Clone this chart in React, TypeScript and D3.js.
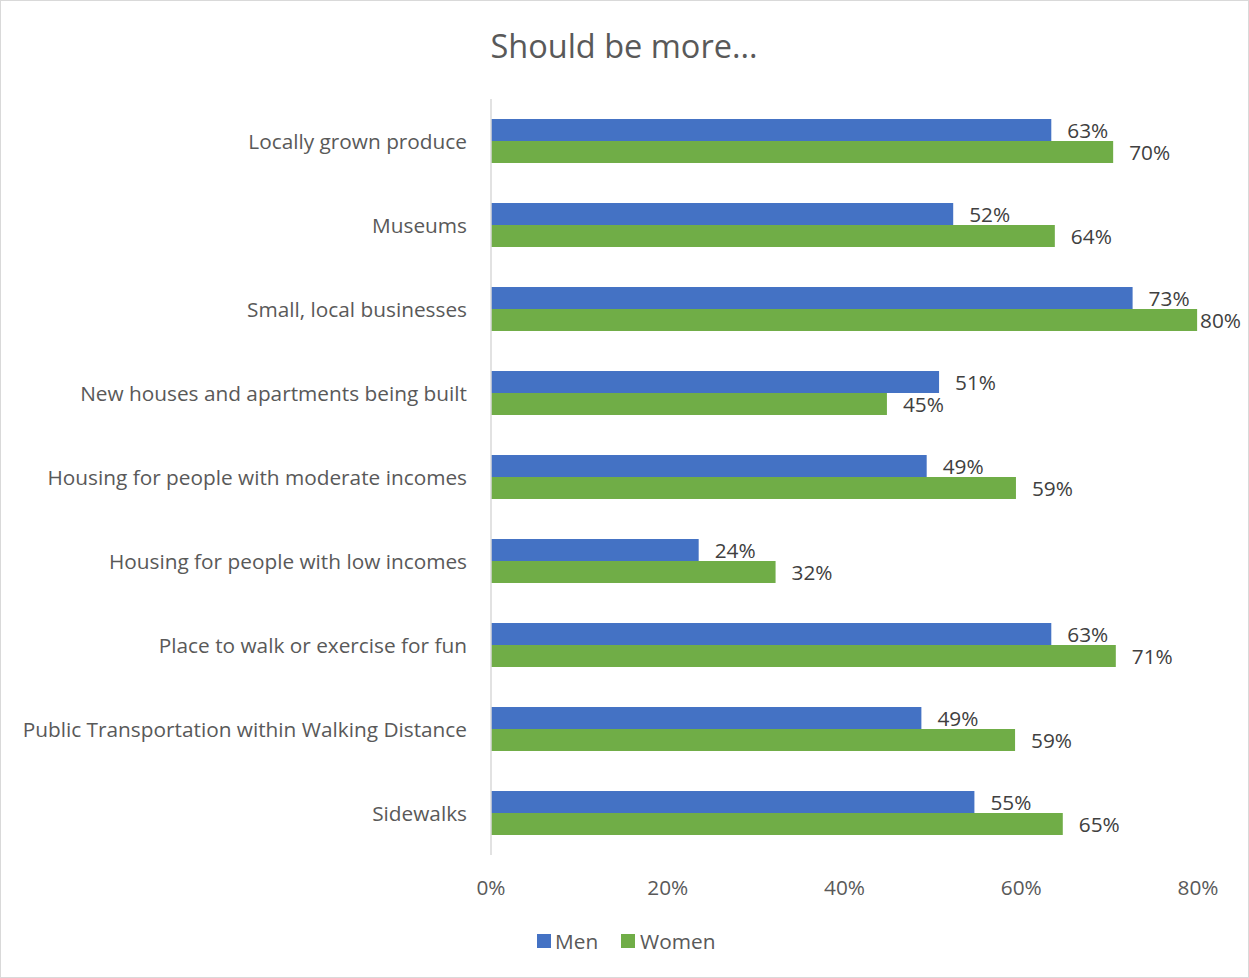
import React from "react";
import * as d3 from "d3";

const categories = [
  "Locally grown produce",
  "Museums",
  "Small, local businesses",
  "New houses and apartments being built",
  "Housing for people with moderate incomes",
  "Housing for people with low incomes",
  "Place to walk or exercise for fun",
  "Public Transportation within Walking Distance",
  "Sidewalks",
];
const men = [63.4, 52.3, 72.6, 50.7, 49.3, 23.5, 63.4, 48.7, 54.7];
const women = [70.4, 63.8, 79.9, 44.8, 59.4, 32.2, 70.7, 59.3, 64.7];
const xTicks = [0, 20, 40, 60, 80];
const seriesNames = ["Men", "Women"];
const colors = ["#4472C4", "#70AD47"];

const W = 1249;
const H = 978;
const FONT = "'Open Sans', 'Noto Sans', sans-serif";
const TXT = "#595959";
const FS = 20.8;

export default function App() {
  const x = d3.scaleLinear().domain([0, 80]).range([491, 1198]);
  const y = d3.scaleBand<string>().domain(categories).range([99, 855]);
  const inner = d3
    .scaleBand<string>()
    .domain(seriesNames)
    .range([0, y.bandwidth()])
    .paddingInner(0)
    .paddingOuter(0.91);
  const data = [men, women];

  return (
    <svg
      width={W}
      height={H}
      style={{ position: "absolute", left: 0, top: 0, background: "#fff" }}
    >
      <rect x={0.5} y={0.5} width={W - 1} height={H - 1} fill="#fff" stroke="#D9D9D9" />
      <text
        x={624}
        y={45}
        textAnchor="middle"
        dominantBaseline="central"
        fontFamily={FONT}
        fontSize={32.5}
        fill={TXT}
      >
        Should be more...
      </text>

      {categories.map((c) => (
        <text
          key={c}
          x={467}
          y={(y(c) as number) + y.bandwidth() / 2}
          textAnchor="end"
          dominantBaseline="central"
          fontFamily={FONT}
          fontSize={FS}
          fill={TXT}
        >
          {c}
        </text>
      ))}

      {seriesNames.map((s, si) =>
        categories.map((c, i) => {
          const v = data[si][i];
          const y0 = (y(c) as number) + (inner(s) as number);
          const lx = x(v) + 16;
          const overflow = lx + 44 > 1242;
          return (
            <g key={s + c}>
              <rect
                x={x(0)}
                y={y0}
                width={x(v) - x(0)}
                height={inner.bandwidth()}
                fill={colors[si]}
              />
              <text
                x={overflow ? 1241 : lx}
                y={y0 + inner.bandwidth() / 2}
                textAnchor={overflow ? "end" : "start"}
                dominantBaseline="central"
                fontFamily={FONT}
                fontSize={FS}
                fill="#404040"
              >
                {Math.round(v)}%
              </text>
            </g>
          );
        })
      )}

      <line x1={x(0)} x2={x(0)} y1={99} y2={855} stroke="#D9D9D9" strokeWidth={1.5} />

      {xTicks.map((t) => (
        <text
          key={t}
          x={x(t)}
          y={887}
          textAnchor="middle"
          dominantBaseline="central"
          fontFamily={FONT}
          fontSize={FS}
          fill={TXT}
        >
          {t}%
        </text>
      ))}

      <rect x={537} y={934} width={14} height={14} fill={colors[0]} />
      <text x={555} y={941} dominantBaseline="central" fontFamily={FONT} fontSize={FS} fill={TXT}>
        {seriesNames[0]}
      </text>
      <rect x={621} y={934} width={14} height={14} fill={colors[1]} />
      <text x={640} y={941} dominantBaseline="central" fontFamily={FONT} fontSize={FS} fill={TXT}>
        {seriesNames[1]}
      </text>
    </svg>
  );
}
